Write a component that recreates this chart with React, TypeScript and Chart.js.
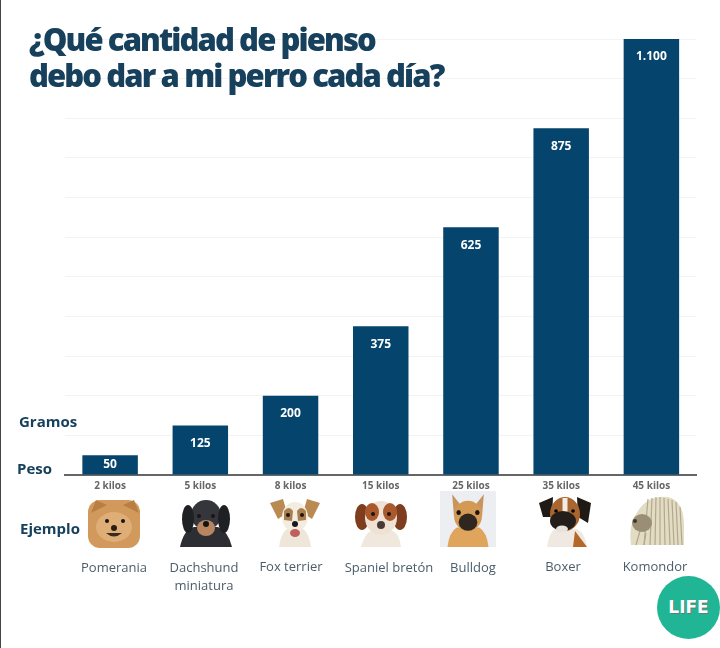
import { useEffect, useRef } from 'react'
import { Chart, registerables } from 'chart.js'
Chart.register(...registerables)

const breeds = ['Pomerania', 'Dachshund miniatura', 'Fox terrier', 'Spaniel bretón', 'Bulldog', 'Boxer', 'Komondor']
const grams = [50, 125, 200, 375, 625, 875, 1100]
const gramLabels = ['50', '125', '200', '375', '625', '875', '1.100']
const weights = ['2 kilos', '5 kilos', '8 kilos', '15 kilos', '25 kilos', '35 kilos', '45 kilos']

const NAVY = '#05446c'
const TEXT = '#17405c'
const FONT = '"Open Sans", "Noto Sans", sans-serif'

const barLabels = {
    id: 'barLabels',
    afterDatasetsDraw(chart: Chart) {
        const { ctx } = chart
        ctx.save()
        ctx.fillStyle = '#fff'
        ctx.font = `700 12px ${FONT}`
        ctx.textAlign = 'center'
        ctx.textBaseline = 'middle'
        chart.getDatasetMeta(0).data.forEach((bar: any, i) => {
            const drop = Math.min(18, (bar.base - bar.y) / 2)
            ctx.fillText(gramLabels[i], bar.x, bar.y + drop)
        })
        ctx.restore()
    },
}

const sideLabels = [
    { text: 'Gramos', left: 19, top: 411 },
    { text: 'Peso', left: 17, top: 458 },
    { text: 'Ejemplo', left: 20, top: 518 },
]

const nameLabels = [
    { lines: ['Pomerania'], x: 114, top: 558 },
    { lines: ['Dachshund', 'miniatura'], x: 204, top: 558 },
    { lines: ['Fox terrier'], x: 291, top: 557 },
    { lines: ['Spaniel bretón'], x: 389, top: 558 },
    { lines: ['Bulldog'], x: 473, top: 558 },
    { lines: ['Boxer'], x: 563, top: 557 },
    { lines: ['Komondor'], x: 655, top: 557 },
]

// rough stand-ins for the dog photos
function Eyes({ y = 22, dx = 7, r = 2 }) {
    return (
        <>
            <circle cx={30 - dx} cy={y} r={r} fill="#1b1410" />
            <circle cx={30 + dx} cy={y} r={r} fill="#1b1410" />
        </>
    )
}

function Pomeranian() {
    return (
        <>
            <rect x="3" y="3" width="52" height="48" rx="12" fill="#d19a5c" />
            <path d="M6 16 L11 3 L22 8 Z M54 16 L49 3 L38 8 Z" fill="#b97f42" />
            <ellipse cx="29" cy="30" rx="18" ry="15" fill="#dfae76" />
            <Eyes y={24} dx={8} />
            <circle cx="29" cy="31" r="3" fill="#2a1c14" />
            <path d="M21 36 Q29 43 37 36 Z" fill="#3a2a20" />
        </>
    )
}

function Dachshund() {
    return (
        <>
            <path d="M4 50 Q8 32 18 30 L42 30 Q52 34 56 50 Z" fill="#2c2e33" />
            <ellipse cx="30" cy="18" rx="15" ry="15" fill="#34363c" />
            <ellipse cx="12" cy="22" rx="6" ry="14" fill="#1f2024" />
            <ellipse cx="48" cy="22" rx="6" ry="14" fill="#1f2024" />
            <ellipse cx="30" cy="31" rx="9" ry="8" fill="#b78660" />
            <Eyes y={19} dx={7} />
            <circle cx="30" cy="27" r="3" fill="#141414" />
        </>
    )
}

function FoxTerrier() {
    return (
        <>
            <path d="M14 50 Q16 36 22 32 L38 32 Q44 36 46 50 Z" fill="#eee6d8" />
            <path d="M5 6 L18 2 L22 16 L13 22 Z" fill="#b98a52" />
            <path d="M55 6 L42 2 L38 16 L47 22 Z" fill="#b98a52" />
            <ellipse cx="30" cy="20" rx="13" ry="15" fill="#f3ede1" />
            <path d="M19 14 Q24 8 28 14 L27 24 L19 23 Z M41 14 Q36 8 32 14 L33 24 L41 23 Z" fill="#a97f4f" />
            <Eyes y={18} dx={7} />
            <circle cx="30" cy="27" r="3" fill="#1a1a1a" />
            <ellipse cx="30" cy="36" rx="5" ry="4" fill="#c0605c" />
        </>
    )
}

function Spaniel() {
    return (
        <>
            <path d="M10 50 Q14 36 20 34 L42 34 Q48 36 50 50 Z" fill="#f1e8dd" />
            <ellipse cx="11" cy="20" rx="7" ry="13" fill="#7d3d1e" />
            <ellipse cx="49" cy="20" rx="7" ry="13" fill="#7d3d1e" />
            <ellipse cx="30" cy="21" rx="16" ry="17" fill="#efe2d4" />
            <ellipse cx="21" cy="15" rx="7" ry="9" fill="#a9592c" />
            <ellipse cx="39" cy="15" rx="7" ry="9" fill="#a9592c" />
            <Eyes y={17} dx={8} />
            <ellipse cx="30" cy="28" rx="4" ry="4" fill="#4a3a36" />
        </>
    )
}

function Bulldog() {
    return (
        <>
            <rect x="0" y="0" width="60" height="52" fill="#eceef1" />
            <path d="M8 52 Q10 38 18 34 L42 34 Q50 38 52 52 Z" fill="#dfa55c" />
            <path d="M13 3 L23 14 L15 24 Z M47 3 L37 14 L45 24 Z" fill="#c9955f" />
            <ellipse cx="30" cy="23" rx="15" ry="14" fill="#d39a56" />
            <ellipse cx="30" cy="29" rx="10" ry="8" fill="#2f2620" />
            <Eyes y={20} dx={10} r={2.4} />
        </>
    )
}

function Boxer() {
    return (
        <>
            <path d="M12 52 Q14 38 20 34 L42 34 Q50 38 52 52 Z" fill="#f0e9e2" />
            <path d="M40 36 L52 52 L38 52 Z" fill="#b4682a" />
            <path d="M4 8 L18 2 L17 22 L8 22 Z M56 8 L42 2 L43 22 L53 28 Z" fill="#201a16" />
            <ellipse cx="30" cy="19" rx="15" ry="17" fill="#a9662f" />
            <rect x="27.5" y="3" width="5" height="20" fill="#f2ece4" />
            <ellipse cx="28" cy="26" rx="13" ry="10" fill="#241e1b" />
            <ellipse cx="27" cy="34" rx="6" ry="3.5" fill="#e8e2dc" />
            <circle cx="21" cy="16" r="1.8" fill="#000" />
            <circle cx="38" cy="16" r="1.8" fill="#000" />
        </>
    )
}

const cords = ['M22 4 L18 50', 'M26 3 L24 50', 'M30 2 L29 50', 'M34 2 L34 50', 'M38 3 L39 50', 'M42 4 L44 50', 'M46 5 L48 50', 'M50 7 L52 50', 'M54 12 L56 50', 'M14 36 L10 50', 'M20 38 L18 50']

function Komondor() {
    return (
        <>
            <path d="M5 50 Q2 30 12 16 Q22 0 42 2 Q58 6 58 30 L58 50 Z" fill="#e3dcc5" />
            {cords.map(d => <path key={d} d={d} stroke="#b3a88a" strokeWidth="1.2" fill="none" />)}
            <ellipse cx="16" cy="28" rx="10" ry="9" fill="#9a8f74" />
            <circle cx="9" cy="26" r="2" fill="#3d3629" />
        </>
    )
}

const dogPhotos = [
    { Dog: Pomeranian, left: 85, top: 497 },
    { Dog: Dachshund, left: 176, top: 497 },
    { Dog: FoxTerrier, left: 265, top: 497 },
    { Dog: Spaniel, left: 351, top: 497 },
    { Dog: Bulldog, left: 440, top: 491 },
    { Dog: Boxer, left: 535, top: 495 },
    { Dog: Komondor, left: 626, top: 495 },
]

export default function App() {
    const canvasRef = useRef<HTMLCanvasElement>(null)

    useEffect(() => {
        if (!canvasRef.current) return
        const chart = new Chart(canvasRef.current, {
            type: 'bar',
            data: {
                labels: breeds,
                datasets: [{
                    data: grams,
                    backgroundColor: NAVY,
                    barPercentage: 0.615,
                    categoryPercentage: 1,
                }],
            },
            options: {
                animation: false,
                responsive: false,
                layout: { padding: { left: 65, right: 23.5, top: 39, bottom: 0 } },
                plugins: { legend: { display: false }, tooltip: { enabled: false } },
                scales: {
                    x: {
                        afterFit: (scale: any) => { scale.height = 173 },
                        grid: { display: false, drawTicks: false },
                        border: { color: '#666', width: 2 },
                        ticks: {
                            callback: (_v: any, i: number) => weights[i],
                            color: '#666',
                            font: { size: 10, weight: 'bold', family: FONT },
                            padding: 5,
                            maxRotation: 0,
                            autoSkip: false,
                        },
                    },
                    y: {
                        min: 0,
                        max: 1100,
                        afterFit: (scale: any) => { scale.width = 0 },
                        grid: { color: '#f1f3f5', drawTicks: false },
                        border: { display: false },
                        ticks: { display: false, stepSize: 100 },
                    },
                },
            },
            plugins: [barLabels],
        })
        return () => chart.destroy()
    }, [])

    return (
        <div style={{ position: 'absolute', left: 0, top: 0, width: 720, height: 648, background: '#fff', overflow: 'hidden', fontFamily: FONT }}>
            <canvas ref={canvasRef} width={720} height={648} style={{ position: 'absolute', left: 0, top: 0 }} />
            <div style={{ position: 'absolute', left: 0, top: 0, width: 1, height: 648, background: '#444' }} />
            <div style={{ position: 'absolute', left: 29, top: 21, color: TEXT, fontSize: 31, fontWeight: 800, lineHeight: '36px', letterSpacing: -1.9, whiteSpace: 'nowrap' }}>
                ¿Qué cantidad de pienso<br />debo dar a mi perro cada día?
            </div>
            {sideLabels.map(l => (
                <div key={l.text} style={{ position: 'absolute', left: l.left, top: l.top, color: TEXT, fontSize: 15, fontWeight: 700, lineHeight: '20px' }}>{l.text}</div>
            ))}
            {dogPhotos.map(({ Dog, left, top }, i) => (
                <svg key={i} viewBox="0 0 60 52" width={i === 4 ? 56 : 60} height={i === 4 ? 56 : 52} preserveAspectRatio="none" style={{ position: 'absolute', left, top }}>
                    <Dog />
                </svg>
            ))}
            {nameLabels.map(n => (
                <div key={n.x} style={{ position: 'absolute', left: n.x - 60, top: n.top, width: 120, textAlign: 'center', color: '#4a5d6a', fontSize: 13, lineHeight: '18px' }}>
                    {n.lines.map(line => <div key={line}>{line}</div>)}
                </div>
            ))}
            <div style={{ position: 'absolute', left: 657, top: 576, width: 63, height: 63, borderRadius: '50%', background: '#1fb595', color: '#fff', fontFamily: '"DejaVu Sans", sans-serif', fontSize: 17, fontWeight: 700, lineHeight: '62px', textAlign: 'center', textShadow: '1px 1px 0 #5d7f78' }}>LIFE</div>
        </div>
    )
}
